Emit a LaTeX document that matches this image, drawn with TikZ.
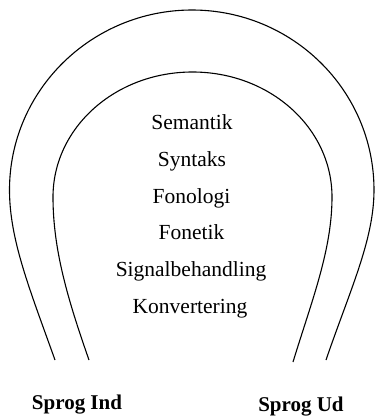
\documentclass[tikz,border=0pt]{standalone}
\usepackage{fontspec}
\setmainfont{Liberation Serif}
\begin{document}
\begin{tikzpicture}[x=1pt,y=-1pt,
  arch/.style={line width=1.1pt, line join=round},
  layer/.style={anchor=base, font=\fontsize{21.5}{24}\selectfont, inner sep=0pt},
  port/.style={anchor=base, font=\fontsize{21}{24}\selectfont\bfseries, inner sep=0pt}]
  \useasboundingbox (0,0) rectangle (375,416);

  % outer arch
  \coordinate (oL) at (55,360);
  \coordinate (oR) at (326,360);
  \draw[arch] (oL) .. controls (30,290) and (9.5,240) .. (9.5,190)
    .. controls (9.5,90) and (92,10) .. (192,10)
    .. controls (292,10) and (374,90) .. (374,190)
    .. controls (374,240) and (350,290) .. (oR);

  % inner arch
  \coordinate (iL) at (89,360);
  \coordinate (iR) at (293,362);
  \draw[arch] (iL) .. controls (68,300) and (53,250) .. (53,197)
    .. controls (53,128) and (115,72) .. (192.5,72)
    .. controls (270,72) and (332,128) .. (332,197)
    .. controls (332,250) and (312,300) .. (iR);

  % processing levels
  \node[layer] (sem) at (192,129) {Semantik};
  \node[layer] (syn) at (192,166) {Syntaks};
  \node[layer] (fonol) at (191.5,203) {Fonologi};
  \node[layer] (fonet) at (191.5,239) {Fonetik};
  \node[layer] (sig) at (191,276) {Signalbehandling};
  \node[layer] (konv) at (190,313) {Konvertering};

  % input and output
  \node[port] (ind) at (77,409) {Sprog Ind};
  \node[port] (ud) at (301,411) {Sprog Ud};
\end{tikzpicture}
\end{document}
